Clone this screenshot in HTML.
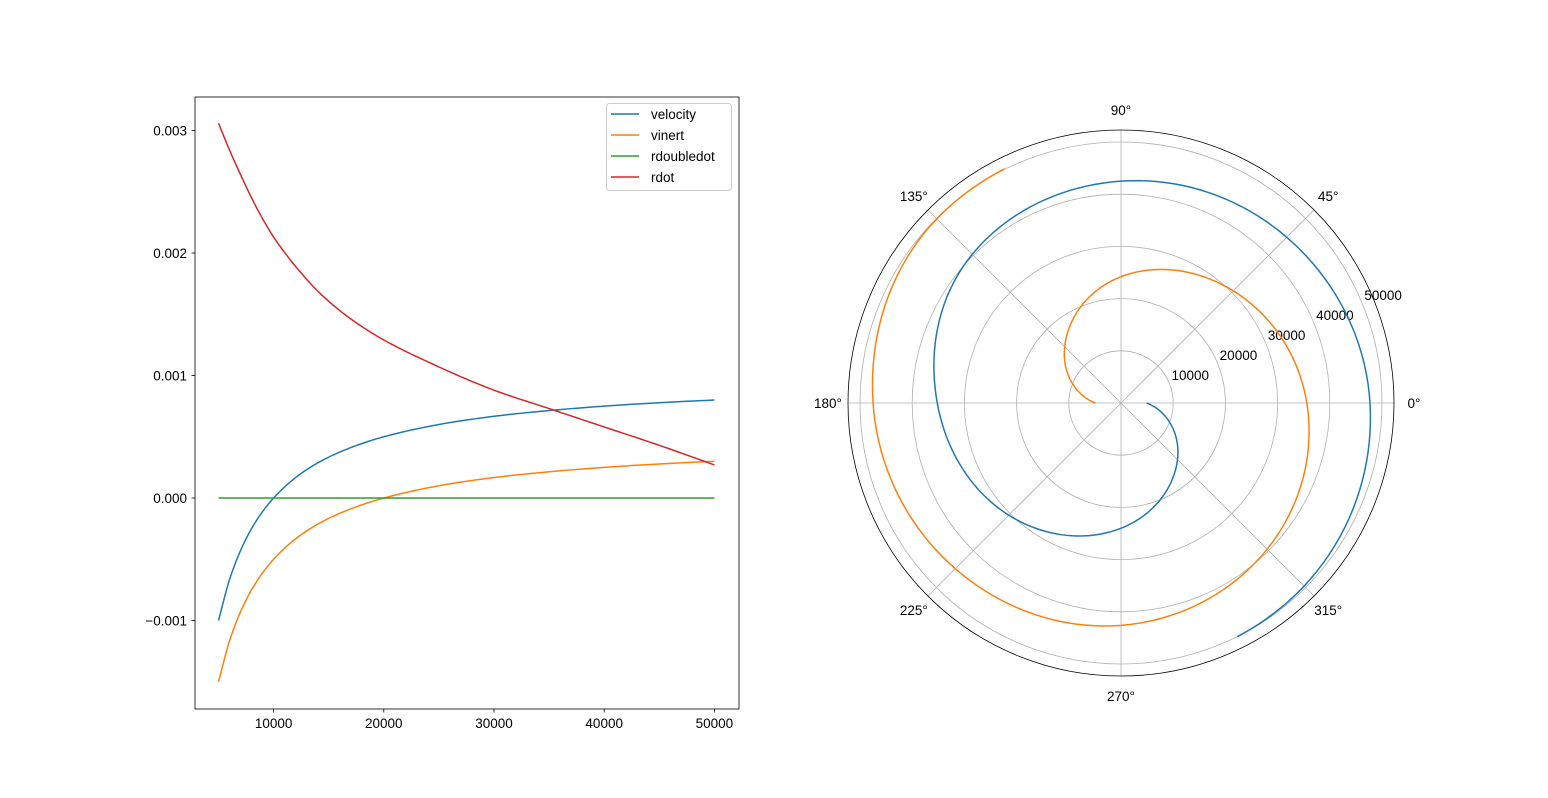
<!DOCTYPE html>
<html><head><meta charset="utf-8"><style>
body{margin:0;background:#fff}
svg{display:block;font-family:"Liberation Sans","DejaVu Sans",sans-serif;font-size:13.5px}
</style></head><body>
<svg id="fig" width="1548" height="798" viewBox="0 0 1548 798">
<rect width="1548" height="798" fill="#fff"/>
<g id="left"></g>
<g id="polar"></g>
</svg>
<script>
// ---- left chart data ----
const xs = [5000,6000,7000,8000,9000,10000,12000,14000,16000,18000,20000,25000,30000,35000,40000,45000,50000];
const velocity = [-0.001,-0.000667,-0.000429,-0.00025,-0.000111,0,0.000167,0.000286,0.000375,0.000444,0.0005,0.0006,0.000667,0.000714,0.00075,0.000778,0.0008];
const vinert = [-0.0015,-0.001167,-0.000929,-0.00075,-0.000611,-0.0005,-0.000333,-0.000214,-0.000125,-0.000056,0,0.0001,0.000167,0.000214,0.00025,0.000278,0.0003];
const rdoubledot = [0,0,0,0,0,0,0,0,0,0,0,0,0,0,0,0,0];
const rdot = [0.00306,0.00284,0.00264,0.00245,0.00228,0.00213,0.00189,0.00169,0.00153,0.0014,0.00129,0.00107,0.00088,0.00073,0.00058,0.00043,0.00027];
const xTicks = [10000,20000,30000,40000,50000];
const yTicks = [-0.001,0,0.001,0.002,0.003];
const yTickLabels = ["\u22120.001","0.000","0.001","0.002","0.003"];
const seriesNames = ["velocity","vinert","rdoubledot","rdot"];
// ---- polar chart data ----
const blueTheta = [0,-44,-90,-135,-180,-225,-270,-315,-360,-405,-423.5];
const blueR = [4900,15100,24000,30400,35200,40300,42500,44900,47700,49600,50000];
const orangeTheta = [180,137.6,90,45,0,-45,-90,-135,-180,-225,-243.6];
const orangeR = [4900,14700,24200,30400,35600,39600,42600,44900,47500,49900,50100];
const rTicks = [10000,20000,30000,40000,50000];
const angleTicks = [0,45,90,135,180,225,270,315];

const colors = ["#1f77b4","#ff7f0e","#2ca02c","#d62728"];
const NS="http://www.w3.org/2000/svg";
function mk(tag,attrs,parent){const e=document.createElementNS(NS,tag);for(const k in attrs)e.setAttribute(k,attrs[k]);parent.appendChild(e);return e;}
// monotone cubic Hermite (Fritsch-Carlson) over increasing t
function mono(t,y,n){
  const m=t.length,d=[],s=[];
  for(let i=0;i<m-1;i++)d.push((y[i+1]-y[i])/(t[i+1]-t[i]));
  s[0]=d[0];s[m-1]=d[m-2];
  for(let i=1;i<m-1;i++){if(d[i-1]*d[i]<=0)s[i]=0;else{const w1=2*(t[i+1]-t[i])+(t[i]-t[i-1]),w2=(t[i+1]-t[i])+2*(t[i]-t[i-1]);s[i]=(w1+w2)/(w1/d[i-1]+w2/d[i]);}}
  const T=[],Y=[];
  for(let i=0;i<m-1;i++){const h=t[i+1]-t[i];for(let k=0;k<n;k++){const u=k/n,u2=u*u,u3=u2*u;
    T.push(t[i]+u*h);
    Y.push((2*u3-3*u2+1)*y[i]+(u3-2*u2+u)*h*s[i]+(-2*u3+3*u2)*y[i+1]+(u3-u2)*h*s[i+1]);}}
  T.push(t[m-1]);Y.push(y[m-1]);return [T,Y];
}

// ---- left chart ----
const L=document.getElementById('left');
const X0=195,X1=739,Y0=97,Y1=709;
const xS=v=>218.5+(v-5000)*0.01102;
const yS=v=>498-v*122500;
[velocity,vinert,rdoubledot,rdot].forEach((ser,i)=>{
  const [sx,sy]=mono(xs,ser,12);
  const d=sx.map((x,j)=>(j?'L':'M')+xS(x).toFixed(2)+','+yS(sy[j]).toFixed(2)).join('');
  const p=mk('path',{d:d,fill:'none',stroke:colors[i],'stroke-width':1.5},L);
  
  
});
const frame=mk('rect',{x:X0,y:Y0,width:X1-X0,height:Y1-Y0,fill:'none',stroke:'#000','stroke-width':0.8},L);


xTicks.forEach(v=>{
  const x=xS(v);
  mk('line',{x1:x,x2:x,y1:Y1,y2:Y1+3.5,stroke:'#000','stroke-width':0.8},L);
  const t=mk('text',{x:x,y:Y1+19,'text-anchor':'middle',fill:'#000'},L);t.textContent=v;
  
  
});
yTicks.forEach((v,i)=>{
  const y=yS(v);
  mk('line',{x1:X0-3.5,x2:X0,y1:y,y2:y,stroke:'#000','stroke-width':0.8},L);
  const t=mk('text',{x:X0-8,y:y+5,'text-anchor':'end',fill:'#000'},L);t.textContent=yTickLabels[i];
  
  
});
const lg=mk('g',{},L);


mk('rect',{x:606.5,y:103.5,width:125,height:87,rx:3,fill:'#fff','fill-opacity':0.8,stroke:'#ccc','stroke-width':1},lg);
seriesNames.forEach((n,i)=>{
  const y=114+i*21;
  const g=mk('g',{},lg);
  
  
  mk('line',{x1:611,x2:639,y1:y,y2:y,stroke:colors[i],'stroke-width':1.5},g);
  const t=mk('text',{x:651,y:y+5,fill:'#000'},g);t.textContent=n;
});

// ---- polar chart ----
const P=document.getElementById('polar');
const CX=1121,CY=403,RM=273,RMAX=52300;
const rS=r=>r*RM/RMAX;
const pt=(th,r)=>{const a=th*Math.PI/180;return [CX+rS(r)*Math.cos(a),CY-rS(r)*Math.sin(a)];};
rTicks.forEach(r=>{
  const c=mk('circle',{cx:CX,cy:CY,r:rS(r),fill:'none',stroke:'#b0b0b0','stroke-width':0.8},P);
  
  
});
angleTicks.forEach(a=>{
  const [x,y]=pt(a,RMAX);
  const l=mk('line',{x1:CX,y1:CY,x2:x,y2:y,stroke:'#b0b0b0','stroke-width':0.8},P);
  
  
  const rad=a*Math.PI/180;
  const t=mk('text',{x:CX+293*Math.cos(rad),y:CY-293*Math.sin(rad)+5,'text-anchor':'middle',fill:'#000'},P);
  t.textContent=a+'\u00b0';
  
  
});
rTicks.forEach(r=>{
  const [x,y]=pt(22.5,r);
  const t=mk('text',{x:x+21,y:y-3,'text-anchor':'middle',fill:'#000'},P);t.textContent=r;
  
  
});
[[blueTheta,blueR,0,'polar-velocity'],[orangeTheta,orangeR,1,'polar-vinert']].forEach(([th,rr,ci,name])=>{
  const off=th.map(a=>th[0]-a);
  const [so,sr]=mono(off,rr,20);
  const d=so.map((o,j)=>{const [x,y]=pt(th[0]-o,sr[j]);return (j?'L':'M')+x.toFixed(2)+','+y.toFixed(2);}).join('');
  const p=mk('path',{d:d,fill:'none',stroke:colors[ci],'stroke-width':1.5},P);
  
  
});
const oc=mk('circle',{cx:CX,cy:CY,r:RM,fill:'none',stroke:'#000','stroke-width':0.8},P);


</script>
</body></html>
